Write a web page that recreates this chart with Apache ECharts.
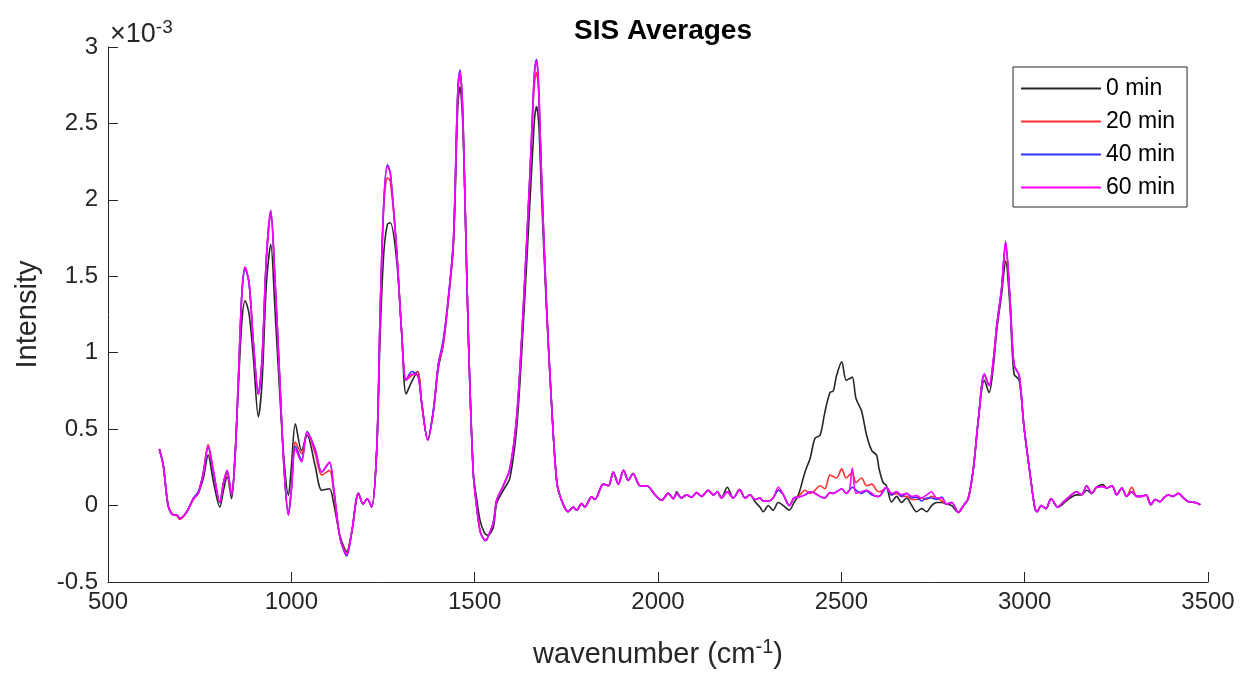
<!DOCTYPE html>
<html>
<head>
<meta charset="utf-8">
<script src="https://cdn.jsdelivr.net/npm/echarts@6/dist/echarts.min.js"></script>
<style>html,body{margin:0;padding:0;background:#fff;}#chart{width:1241px;height:674px;}</style>
</head>
<body>
<div id="chart"></div>
<script>
// wavenumber (cm^-1)
const wavenumber = [640,651,664,678,687,696,715,733,746,760,
773,788,805,815,825,837,846,855,865,874,
885,897,910,920,932,944,955,968,980,992,
1000,1011,1028,1043,1065,1083,1104,1115,1133,1151,
1165,1183,1196,1207,1219,1233,1242,1252,1262,1270,
1287,1301,1313,1328,1345,1355,1372,1387,1401,1414,
1428,1442,1451,1455,1460,1465,1469,1474,1483,1496,1505,1515,
1525,1531,1537,1551,1560,1578,1596,1615,1633,1651,
1660,1664,1669,1673,1676,1682,1696,1710,1724,1737,1755,1769,
1778,1792,1800,1819,1828,1851,1865,1878,1892,1906,
1919,1932,1951,1969,1992,2010,2028,2042,2051,2064,
2078,2092,2105,2119,2137,2151,2162,2173,2189,2205,
2223,2237,2251,2265,2278,2287,2301,2314,2328,2342,
2358,2371,2383,2401,2415,2428,2442,2455,2469,2478,
2487,2501,2513,2522,2530,2540,2555,2569,2583,2596,
2603,2614,2623,2637,2651,2664,2678,2692,2705,2719,
2733,2746,2760,2774,2787,2801,2819,2833,2846,2860,
2874,2890,2903,2915,2924,2937,2948,2960,2971,2985,
2998,3015,3028,3034,3045,3058,3072,3090,3104,3118,
3142,3155,3169,3183,3196,3213,3224,3238,3251,3265,
3278,3292,3306,3319,3331,3344,3356,3370,3379,3392,
3404,3419,3433,3447,3465,3479];

// intensities in units of 1e-3
const min0 = [.37,.26,0,-.06,-.06,-.085,-.04,.045,.08,.18,
.33,.15,-.01,.10,.19,.045,.30,.75,1.20,1.34,
1.25,.95,.58,.80,1.45,1.71,1.30,.75,.30,.067,
.25,.535,.36,.46,.26,.10,.11,.02,-.20,-.30,
-.17,.08,.01,.045,-.01,.37,1.10,1.65,1.84,1.85,
1.61,1.13,.73,.81,.877,.68,.43,.61,.90,1.05,
1.34,1.70,2.40,2.65,2.74,2.62,2.40,1.96,1.09,.22,.05,-.10,
-.17,-.19,-.194,-.14,.013,.10,.18,.52,1.20,2.00,
2.40,2.55,2.61,2.55,2.45,2.05,1.28,.65,.155,.035,-.04,-.01,
-.03,.013,-.01,.057,.04,.14,.13,.22,.14,.23,
.165,.21,.13,.13,.07,.035,.08,.045,.09,.05,
.07,.055,.085,.06,.10,.07,.09,.05,.12,.05,
.105,.05,.07,.024,-.01,-.04,0,-.03,.02,0,
-.03,.02,.07,.22,.31,.44,.46,.61,.74,.75,
.85,.94,.82,.83,.84,.70,.62,.46,.36,.33,
.24,.15,.13,.024,.06,.02,.05,0,-.04,-.02,
-.04,0,.02,.02,.01,0,-.045,0,.045,.24,
.57,.82,.74,.92,1.15,1.38,1.60,1.30,.86,.82,
.52,.20,-.02,-.04,0,-.02,.045,-.01,.01,.04,
.07,.07,.10,.08,.12,.137,.115,.13,.07,.115,
.06,.09,.06,.06,.07,.005,.04,.025,.05,.07,
.06,.08,.05,.025,.02,.005];

const min20 = [.37,.26,0,-.06,-.065,-.09,-.04,.04,.08,.22,
.40,.22,.02,.15,.21,.07,.30,.79,1.38,1.56,
1.45,1.05,.73,.95,1.62,1.91,1.50,.85,.25,-.06,
.10,.415,.34,.48,.34,.20,.23,.10,-.215,-.31,
-.17,.08,.01,.045,-.01,.37,1.24,1.95,2.145,2.12,
1.68,1.13,.82,.85,.877,.68,.43,.61,.92,1.05,
1.34,1.72,2.48,2.74,2.83,2.70,2.45,1.96,1.09,.22,0,-.17,
-.22,-.226,-.20,-.11,.035,.13,.24,.59,1.31,2.18,
2.65,2.78,2.835,2.76,2.62,2.18,1.31,.65,.155,.035,-.04,-.01,
-.03,.013,-.01,.057,.04,.14,.13,.22,.14,.23,
.165,.21,.13,.13,.07,.035,.08,.045,.08,.05,
.07,.055,.085,.06,.10,.07,.09,.05,.09,.05,
.105,.05,.07,.04,.05,.03,.03,.05,.10,.07,
0,.05,.06,.10,.08,.10,.13,.11,.20,.19,
.18,.24,.18,.20,.215,.15,.18,.13,.14,.10,
.09,.10,.12,.07,.08,.06,.06,.04,.04,.05,
.04,.06,.05,.03,.01,.02,-.045,0,.045,.24,
.57,.86,.785,.96,1.18,1.42,1.70,1.35,.92,.85,
.52,.20,-.02,-.04,0,-.02,.045,-.01,.02,.05,
.09,.07,.13,.08,.12,.125,.115,.13,.07,.115,
.06,.12,.06,.06,.07,.005,.04,.025,.05,.07,
.06,.08,.05,.025,.02,.005];

const min40 = [.37,.26,0,-.06,-.06,-.085,-.04,.05,.09,.21,
.38,.21,.02,.15,.23,.07,.30,.79,1.38,1.55,
1.45,1.05,.73,.95,1.62,1.93,1.50,.85,.25,-.06,
.10,.39,.30,.485,.37,.22,.28,.12,-.215,-.33,
-.17,.08,.01,.045,-.01,.37,1.24,1.98,2.23,2.18,
1.68,1.13,.82,.877,.85,.68,.43,.62,.93,1.08,
1.36,1.74,2.50,2.76,2.85,2.72,2.46,1.96,1.09,.22,0,-.17,
-.22,-.23,-.20,-.11,.035,.13,.24,.59,1.31,2.18,
2.70,2.86,2.92,2.82,2.64,2.18,1.31,.65,.155,.035,-.04,-.01,
-.03,.013,-.01,.057,.04,.14,.13,.22,.14,.23,
.165,.21,.13,.13,.07,.035,.08,.045,.08,.05,
.07,.055,.085,.06,.10,.07,.09,.05,.09,.05,
.105,.05,.07,.04,.05,.03,.03,.05,.10,.07,
0,.05,.055,.07,.09,.08,.06,.05,.085,.08,
.09,.11,.08,.10,.12,.10,.08,.095,.07,.06,
.06,.09,.12,.07,.09,.06,.08,.05,.055,.03,
.05,.05,.04,.055,.01,.02,-.045,0,.045,.24,
.57,.86,.785,.96,1.18,1.42,1.72,1.35,.92,.85,
.52,.20,-.02,-.04,0,-.02,.045,-.01,.02,.05,
.09,.07,.13,.08,.12,.125,.115,.13,.07,.115,
.06,.09,.06,.06,.07,.005,.04,.025,.05,.07,
.06,.08,.05,.025,.02,.005];

const min60 = [.37,.26,0,-.06,-.06,-.085,-.04,.045,.08,.21,
.39,.22,.02,.15,.23,.07,.30,.79,1.38,1.56,
1.45,1.05,.73,.95,1.62,1.93,1.50,.85,.25,-.063,
.10,.37,.285,.48,.36,.22,.285,.13,-.215,-.32,
-.17,.08,.01,.045,-.01,.37,1.24,1.97,2.22,2.17,
1.68,1.13,.82,.86,.85,.68,.43,.61,.92,1.06,
1.35,1.73,2.49,2.75,2.84,2.71,2.45,1.96,1.09,.22,0,-.17,
-.22,-.226,-.20,-.11,.035,.13,.24,.59,1.31,2.18,
2.68,2.85,2.91,2.81,2.64,2.18,1.31,.65,.155,.035,-.04,-.01,
-.03,.013,-.01,.057,.04,.14,.13,.22,.14,.23,
.165,.21,.13,.13,.07,.035,.08,.045,.08,.05,
.07,.055,.085,.06,.10,.07,.09,.05,.09,.05,
.105,.05,.07,.04,.05,.03,.03,.05,.12,.07,
0,.05,.055,.07,.09,.08,.06,.05,.085,.08,
.09,.11,.08,.10,.246,.08,.09,.10,.08,.06,
.06,.10,.12,.08,.09,.07,.08,.06,.065,.05,
.07,.09,.05,.05,.01,.02,-.045,0,.045,.24,
.57,.86,.785,.96,1.18,1.42,1.73,1.35,.92,.85,
.52,.20,-.02,-.04,0,-.02,.045,-.01,.02,.05,
.09,.07,.13,.08,.12,.125,.115,.13,.07,.115,
.06,.09,.06,.06,.07,.005,.04,.025,.05,.07,
.06,.08,.05,.025,.02,.005];

const seriesNames = ['0 min', '20 min', '40 min', '60 min'];
const seriesValues = [min0, min20, min40, min60];
const seriesColors = ['#262626', '#ff3030', '#3030ff', '#ff00ff'];

const FONT = "'Liberation Sans', Arial, Helvetica, sans-serif";
const AX = '#262626';

const chart = echarts.init(document.getElementById('chart'), null, {renderer: 'canvas'});
chart.setOption({
  animation: false,
  backgroundColor: '#fff',
  title: {
    text: 'SIS Averages',
    left: 658, top: 12, textAlign: 'center',
    textStyle: {fontFamily: FONT, fontSize: 28, fontWeight: 'bold', color: '#000'}
  },
  graphic: [{
    type: 'text', left: 110, top: 18,
    style: {
      text: '{a|×10}{b|-3}',
      rich: {
        a: {fontFamily: FONT, fontSize: 27, fill: AX},
        b: {fontFamily: FONT, fontSize: 19, fill: AX, padding: [0, 0, 14, 0]}
      }
    }
  }],
  legend: {
    orient: 'vertical', left: 1013, top: 67,
    padding: [10, 12, 8, 8],
    itemWidth: 80, itemHeight: 2, itemGap: 10,
    icon: 'rect',
    borderColor: AX, borderWidth: 1, backgroundColor: '#fff',
    textStyle: {fontFamily: FONT, fontSize: 23, color: '#000'},
    data: seriesNames
  },
  grid: {left: 108, right: 33, top: 47, bottom: 90, containLabel: false},
  xAxis: {
    type: 'value', min: 500, max: 3500, interval: 500,
    name: '{a|wavenumber (cm}{b|-1}{a|)}',
    nameLocation: 'middle', nameGap: 55,
    nameTextStyle: {
      rich: {
        a: {fontFamily: FONT, fontSize: 29, color: AX},
        b: {fontFamily: FONT, fontSize: 20, color: AX, padding: [0, 0, 15, 0]}
      }
    },
    axisLine: {show: true, onZero: false, lineStyle: {color: AX, width: 1}},
    axisTick: {show: true, inside: true, length: 10, lineStyle: {color: AX}},
    axisLabel: {fontFamily: FONT, fontSize: 24, color: AX, margin: 8,
      formatter: v => String(v)},
    splitLine: {show: false}
  },
  yAxis: {
    type: 'value', min: -0.5, max: 3, interval: 0.5,
    name: 'Intensity', nameLocation: 'middle', nameGap: 66, nameRotate: 90,
    nameTextStyle: {fontFamily: FONT, fontSize: 29, color: AX},
    axisLine: {show: true, onZero: false, lineStyle: {color: AX, width: 1}},
    axisTick: {show: true, inside: true, length: 10, lineStyle: {color: AX}},
    axisLabel: {fontFamily: FONT, fontSize: 24, color: AX, margin: 10,
      formatter: v => String(v)},
    splitLine: {show: false}
  },
  series: seriesNames.map((n, k) => ({
    name: n, type: 'line', showSymbol: false, smooth: 0.3,
    lineStyle: {color: seriesColors[k], width: 1.6},
    itemStyle: {color: seriesColors[k]},
    data: wavenumber.map((w, i) => [w, seriesValues[k][i]]),
    z: 2 + k
  }))
});
</script>
</body>
</html>
